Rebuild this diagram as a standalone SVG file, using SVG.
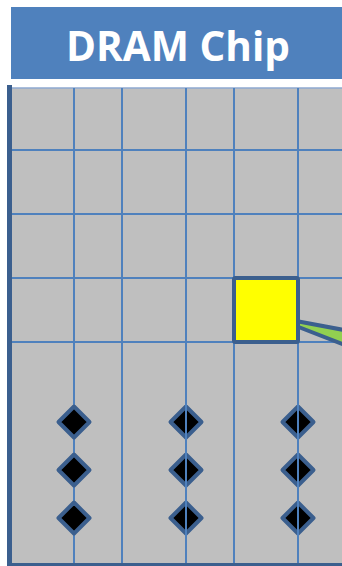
<svg xmlns="http://www.w3.org/2000/svg" width="342" height="566" viewBox="0 0 342 566">
<style>
.grid{stroke:#4F81BD;stroke-width:2;fill:none}
.dia{fill:#000;stroke:#3B5F8E;stroke-width:4;stroke-linejoin:round}
.title{font-family:"Open Sans","Liberation Sans",sans-serif;font-weight:bold;font-size:41px;fill:#fff}
</style>
<rect width="342" height="566" fill="#fff"/>
<g id="title">
<rect x="11" y="7" width="340" height="72" fill="#4F81BD"/>
<text class="title" x="178" y="61" text-anchor="middle" textLength="224" lengthAdjust="spacingAndGlyphs">DRAM Chip</text>
</g>
<g id="chip">
<rect x="10" y="88" width="340" height="475" fill="#BFBFBF"/>
<line x1="10" y1="88" x2="342" y2="88" stroke="#8EA9D0" stroke-width="1.5"/>
<g class="grid">
<line x1="10" y1="150" x2="342" y2="150"/>
<line x1="10" y1="214" x2="342" y2="214"/>
<line x1="10" y1="278" x2="342" y2="278"/>
<line x1="10" y1="342" x2="342" y2="342"/>
<line x1="74" y1="88" x2="74" y2="563"/>
<line x1="122" y1="88" x2="122" y2="563"/>
<line x1="186" y1="88" x2="186" y2="342"/>
<line x1="234" y1="88" x2="234" y2="563"/>
<line x1="298" y1="88" x2="298" y2="342"/>
</g>
<line x1="9.5" y1="85" x2="9.5" y2="566" stroke="#3B5F8E" stroke-width="5"/>
<line x1="7" y1="564.5" x2="342" y2="564.5" stroke="#3B5F8E" stroke-width="3"/>
</g>
<g id="cells">
<path class="dia" d="M74 406.5 L89.5 422 L74 437.5 L58.5 422 Z"/>
<path class="dia" d="M74 454.5 L89.5 470 L74 485.5 L58.5 470 Z"/>
<path class="dia" d="M74 502.5 L89.5 518 L74 533.5 L58.5 518 Z"/>
<path class="dia" d="M186 406.5 L201.5 422 L186 437.5 L170.5 422 Z"/>
<path class="dia" d="M186 454.5 L201.5 470 L186 485.5 L170.5 470 Z"/>
<path class="dia" d="M186 502.5 L201.5 518 L186 533.5 L170.5 518 Z"/>
<path class="dia" d="M298 406.5 L313.5 422 L298 437.5 L282.5 422 Z"/>
<path class="dia" d="M298 454.5 L313.5 470 L298 485.5 L282.5 470 Z"/>
<path class="dia" d="M298 502.5 L313.5 518 L298 533.5 L282.5 518 Z"/>
<line class="grid" x1="186" y1="342" x2="186" y2="563"/>
<line class="grid" x1="298" y1="342" x2="298" y2="563"/>
</g>
<g id="connectors">
<polygon points="296,321 360,333 360,351 296,326" fill="#92D050" stroke="#3B5F8E" stroke-width="4" stroke-linejoin="round"/>
</g>
<g id="selected-cell">
<rect x="234" y="278" width="64" height="64" rx="1.5" fill="#FFFF00" stroke="#3B5F8E" stroke-width="4"/>
</g>
</svg>
